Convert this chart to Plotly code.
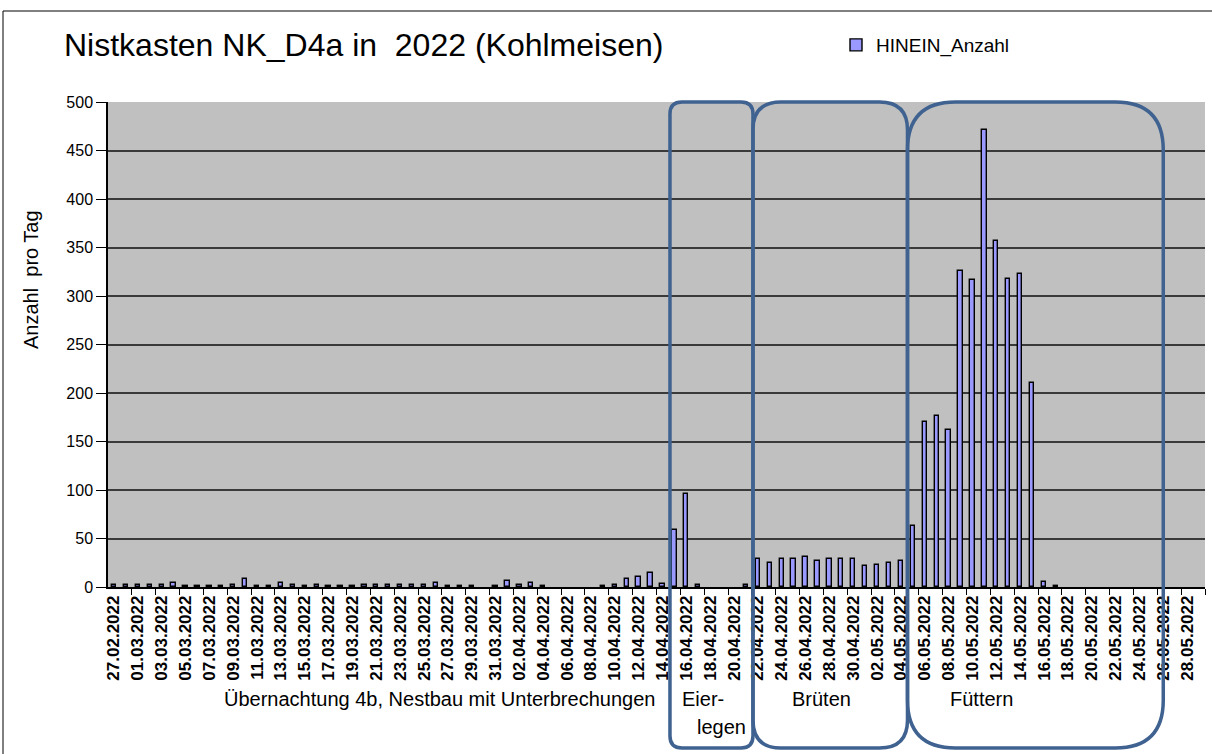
import pandas as pd
import plotly.graph_objects as go

# Daily entries into nest box NK_D4a, 27.02.2022 - 29.05.2022
days = pd.date_range("2022-02-27", "2022-05-29", freq="D")
day_labels = [d.strftime("%d.%m.%Y") for d in days]

hinein_anzahl = [
    2, 2, 2, 2, 2, 4, 1, 1, 1, 1, 2, 8, 1, 1, 4,          # 27.02 - 13.03
    2, 1, 2, 1, 1, 1, 2, 2, 2, 2, 2, 2, 4, 1, 1, 1,       # 14.03 - 29.03
    0, 1, 6, 2, 4, 1, 0, 0, 0, 0, 1, 2, 8, 10, 14, 3,     # 30.03 - 14.04
    59, 96, 2, 0, 0, 0, 2,                                # 15.04 - 21.04
    29, 25, 29, 29, 31, 27, 29, 29, 29, 22, 23, 25, 27,   # 22.04 - 04.05
    63, 170, 176, 162, 326, 317, 471, 357, 318, 323, 210, 5, 1,  # 05.05 - 17.05
    0, 0, 0, 0, 0, 0, 0, 0, 0, 0, 0, 0,                   # 18.05 - 29.05
]

y_ticks = list(range(0, 501, 50))

# Breeding phases as day-index spans (box left, box right, corner radius px)
phases = [
    ("Eier-legen", 46.63, 53.59, 12),
    ("Brüten", 53.59, 66.55, 28),
    ("Füttern", 66.55, 88.0, 48),
]

FONT = "Liberation Sans, Arial, sans-serif"
WIDTH, HEIGHT = 1212, 754
L, R, T, B = 108, 1205, 102, 587
PW, PH = R - L, B - T
N = len(days)

x_idx = list(range(N))
# days without any entry get no bar at all
bar_values = [v if v else None for v in hinein_anzahl]


def idx_to_px(i):
    return L + (i + 0.5) * PW / N


def px_x(px):
    return (px - L) / PW


def px_y(py):
    return (B - py) / PH


def rounded_box(x0, x1, y0, y1, r):
    """Rounded rectangle path (pixel inputs) in paper coordinates."""
    pts = [
        ("M", [(x0 + r, y0)]),
        ("L", [(x1 - r, y0)]),
        ("Q", [(x1, y0), (x1, y0 + r)]),
        ("L", [(x1, y1 - r)]),
        ("Q", [(x1, y1), (x1 - r, y1)]),
        ("L", [(x0 + r, y1)]),
        ("Q", [(x0, y1), (x0, y1 - r)]),
        ("L", [(x0, y0 + r)]),
        ("Q", [(x0, y0), (x0 + r, y0)]),
    ]
    parts = []
    for cmd, coords in pts:
        parts.append(cmd + " ".join(f"{px_x(a):.5f},{px_y(b):.5f}" for a, b in coords))
    return " ".join(parts) + " Z"


fig = go.Figure()
fig.add_trace(go.Bar(
    x=x_idx,
    y=bar_values,
    name="HINEIN_Anzahl",
    width=0.36,
    marker=dict(color="#9999FF", line=dict(color="black", width=1.4)),
))

shapes = []
# chart area frame
shapes.append(dict(type="rect", xref="paper", yref="paper",
                   x0=px_x(3), x1=px_x(1230), y0=px_y(11), y1=px_y(780),
                   line=dict(color="black", width=1), layer="below"))

box_top, box_bottom = 102, 748
for label, a, b, r in phases:
    shapes.append(dict(
        type="path", xref="paper", yref="paper",
        path=rounded_box(idx_to_px(a), idx_to_px(b), box_top, box_bottom, r),
        line=dict(color="#3F6290", width=3.5), layer="above",
    ))


def note(text, xpx, ypx, size=20, angle=0):
    return dict(text=text, textangle=angle, xref="paper", yref="paper",
                x=px_x(xpx), y=px_y(ypx), xanchor="center", yanchor="middle",
                showarrow=False, font=dict(family=FONT, size=size, color="black"))


annotations = [
    note("Anzahl  pro Tag", 31, 280, angle=-90),
    note("Übernachtung 4b, Nestbau mit Unterbrechungen", 440, 699),
    note("Eier-", 703, 699),
    note("legen", 721, 727),
    note("Brüten", 821, 699),
    note("Füttern", 981, 699),
]

fig.update_layout(
    width=WIDTH, height=HEIGHT,
    margin=dict(l=L, r=WIDTH - R, t=T, b=HEIGHT - B, pad=0),
    paper_bgcolor="white",
    plot_bgcolor="#C0C0C0",
    font=dict(family=FONT, color="black"),
    title=dict(text="Nistkasten NK_D4a in  2022 (Kohlmeisen)",
               x=64 / WIDTH, xanchor="left", xref="container",
               y=1 - 45 / HEIGHT, yanchor="middle", yref="container",
               font=dict(family=FONT, size=32, color="black")),
    showlegend=True,
    legend=dict(x=px_x(836), y=px_y(45), xanchor="left", yanchor="middle",
                bgcolor="rgba(0,0,0,0)", font=dict(family=FONT, size=19, color="black"),
                itemwidth=30),
    bargap=0.0,
    shapes=shapes,
    annotations=annotations,
)

fig.update_xaxes(
    range=[-0.5, N - 0.5],
    tickmode="array",
    tickvals=x_idx[::2],
    ticktext=day_labels[::2],
    tickangle=-90,
    ticks="",
    tickfont=dict(family=FONT, size=17, color="black", weight="bold"),
    showgrid=False,
    showline=True, linecolor="black", linewidth=1.5,
    zeroline=False,
    minor=dict(tickmode="array", tickvals=[i + 0.5 for i in x_idx[1::2]],
               ticks="outside", ticklen=6, tickcolor="black", tickwidth=1, showgrid=False),
)

fig.update_yaxes(
    range=[0, 500],
    tickmode="array",
    tickvals=y_ticks,
    ticks="outside", ticklen=10, tickcolor="black", tickwidth=1,
    tickfont=dict(family=FONT, size=16, color="black"),
    showgrid=True, gridcolor="#3A3A3A", gridwidth=1.5,
    showline=True, linecolor="black", linewidth=1.5,
    zeroline=False,
)

fig.write_html("out.html")
